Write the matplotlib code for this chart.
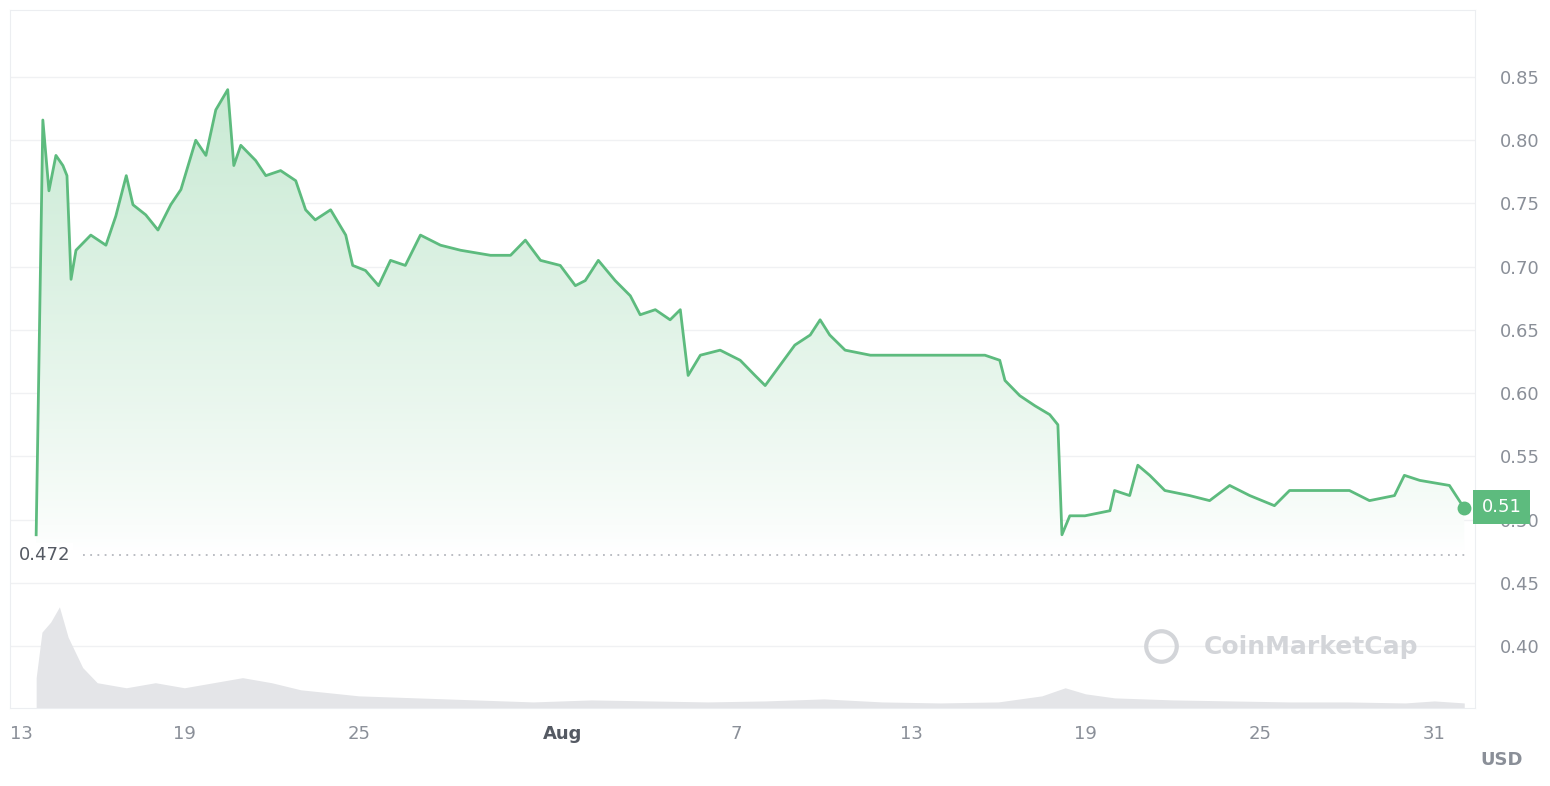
import matplotlib.pyplot as plt
import numpy as np
from matplotlib.patches import Polygon

# days since Jul 13
days = [0.9, 1.13, 1.34, 1.58, 1.82, 1.96, 2.1, 2.27, 2.78, 3.3, 3.64, 4.0, 4.23, 4.67, 5.09, 5.53,
        5.88, 6.39, 6.74, 7.08, 7.49, 7.7, 7.94, 8.45, 8.8, 9.31, 9.83, 10.17, 10.5, 11.03, 11.55,
        11.79, 12.23, 12.68, 13.09, 13.6, 14.12, 14.81, 15.5, 16.53, 17.22, 17.73, 18.25, 18.93,
        19.45, 19.79, 20.24, 20.82, 21.34, 21.68, 22.2, 22.71, 23.06, 23.33, 23.75, 24.43, 25.12,
        25.63, 25.98, 26.49, 27.0, 27.53, 27.87, 28.2, 28.73, 29.6, 30.6, 31.65, 32.68, 33.54,
        34.05, 34.23, 34.74, 35.26, 35.77, 36.05, 36.19, 36.46, 36.98, 37.84, 38.0, 38.52, 38.8,
        39.21, 39.73, 40.58, 41.27, 41.96, 42.65, 43.5, 44.02, 45.05, 46.08, 46.77, 47.63, 47.97,
        48.5, 49.52, 50.03]
price = [0.488, 0.816, 0.76, 0.788, 0.78, 0.772, 0.69, 0.713, 0.725, 0.717, 0.74, 0.772, 0.749,
         0.741, 0.729, 0.749, 0.761, 0.80, 0.788, 0.824, 0.84, 0.78, 0.796, 0.784, 0.772, 0.776,
         0.768, 0.745, 0.737, 0.745, 0.725, 0.701, 0.697, 0.685, 0.705, 0.701, 0.725, 0.717, 0.713,
         0.709, 0.709, 0.721, 0.705, 0.701, 0.685, 0.689, 0.705, 0.689, 0.677, 0.662, 0.666, 0.658,
         0.666, 0.614, 0.63, 0.634, 0.626, 0.614, 0.606, 0.622, 0.638, 0.646, 0.658, 0.646, 0.634,
         0.63, 0.63, 0.63, 0.63, 0.63, 0.626, 0.61, 0.598, 0.59, 0.583, 0.575, 0.488, 0.503, 0.503,
         0.507, 0.523, 0.519, 0.543, 0.535, 0.523, 0.519, 0.515, 0.527, 0.519, 0.511, 0.523, 0.523,
         0.523, 0.515, 0.519, 0.535, 0.531, 0.527, 0.509]

vol_days = [0.9, 1.1, 1.4, 1.7, 2.0, 2.5, 3.0, 4.0, 5.0, 6.0, 7.0, 8.0, 9.0, 10.0, 12.0, 14.0,
            16.0, 18.0, 20.0, 22.0, 24.0, 26.0, 28.0, 30.0, 32.0, 34.0, 35.5, 36.3, 37.0, 38.0,
            40.0, 42.0, 44.0, 46.0, 48.0, 49.0, 50.03]
volume = [0.3, 0.75, 0.85, 1.0, 0.7, 0.4, 0.25, 0.2, 0.25, 0.2, 0.25, 0.3, 0.25, 0.18, 0.12,
          0.1, 0.08, 0.06, 0.08, 0.07, 0.06, 0.07, 0.09, 0.06, 0.05, 0.06, 0.12, 0.2, 0.14, 0.1,
          0.08, 0.07, 0.06, 0.06, 0.05, 0.07, 0.05]

tick_pos = [0, 6, 12, 19, 25, 31, 37, 43, 49]
tick_lab = ['13', '19', '25', 'Aug', '7', '13', '19', '25', '31']
y_ticks = [0.40, 0.45, 0.50, 0.55, 0.60, 0.65, 0.70, 0.75, 0.80, 0.85]

green = '#5dbb7e'
grey = '#8a8f98'

fig = plt.figure(figsize=(15.5, 7.86), dpi=100)
ax = fig.add_axes([10 / 1550, 1 - 708 / 786, 1465 / 1550, 698 / 786])
ymin, ymax = 0.351, 0.903
xmin, xmax = 0.03, 50.4
ax.set_xlim(xmin, xmax)
ax.set_ylim(ymin, ymax)

# gradient fill under price line, fading out near the low line
fill_bottom = 0.475
grad = np.linspace(0, 1, 256).reshape(-1, 1) ** 0.8
cmap = plt.matplotlib.colors.LinearSegmentedColormap.from_list('g', ['#ffffff', '#c9ead4'])
img = ax.imshow(grad, extent=[xmin, xmax, fill_bottom, 0.85], origin='lower', aspect='auto',
                cmap=cmap, zorder=1)
poly = Polygon(list(zip(days, price)) + [(days[-1], fill_bottom), (days[0], fill_bottom)],
               closed=True, transform=ax.transData, facecolor='none', edgecolor='none')
ax.add_patch(poly)
img.set_clip_path(poly)

# volume drawn in the lower band, scaled into price units
vol_scale = 0.08
ax.fill_between(vol_days, ymin, ymin + np.array(volume) * vol_scale, color='#e4e5e8', lw=0, zorder=2)

ax.plot(days, price, color=green, lw=2, zorder=3)
ax.plot(days[-1], price[-1], 'o', color=green, ms=9, zorder=4)

ax.axhline(0.472, color='#b5b8be', ls=(0, (1, 3)), lw=1.3, xmin=0.05, xmax=0.995, zorder=2)
ax.text(0.3, 0.472, '0.472', color='#555a63', fontsize=13, va='center', ha='left',
        bbox=dict(facecolor='white', edgecolor='none', pad=2), zorder=5)

ax.set_yticks(y_ticks)
ax.set_yticklabels([f'{v:.2f}' for v in y_ticks])
ax.yaxis.tick_right()
ax.tick_params(axis='y', length=0, pad=18, labelsize=13, labelcolor=grey)
ax.set_xticks(tick_pos)
ax.set_xticklabels(tick_lab)
ax.tick_params(axis='x', length=0, pad=12, labelsize=13, labelcolor=grey)
for lab in ax.get_xticklabels():
    if lab.get_text() == 'Aug':
        lab.set_fontweight('bold')
        lab.set_color('#555a63')
ax.get_xticklabels()[0].set_horizontalalignment('left')
ax.grid(axis='y', color='#f0f1f3', lw=1)
ax.set_axisbelow(True)
for s in ax.spines.values():
    s.set_color('#eceef1')

ax.text(1.0045, 0.51, '0.51', transform=ax.get_yaxis_transform(), color='white', fontsize=13,
        va='center', ha='left', zorder=6,
        bbox=dict(facecolor=green, edgecolor='none', boxstyle='square,pad=0.45'))

ax.plot(39.6, 0.40, 'o', ms=22, mfc='none', mec='#d3d5d9', mew=3, zorder=2)
ax.text(0.815, 0.088, 'CoinMarketCap', transform=ax.transAxes, fontsize=18, color='#d3d5d9',
        fontweight='bold', va='center', ha='left', zorder=2)
fig.text(1480 / 1550, 1 - 760 / 786, 'USD', fontsize=13, color=grey, fontweight='bold', va='center')

fig.savefig('out.png', dpi=100, facecolor='white')
